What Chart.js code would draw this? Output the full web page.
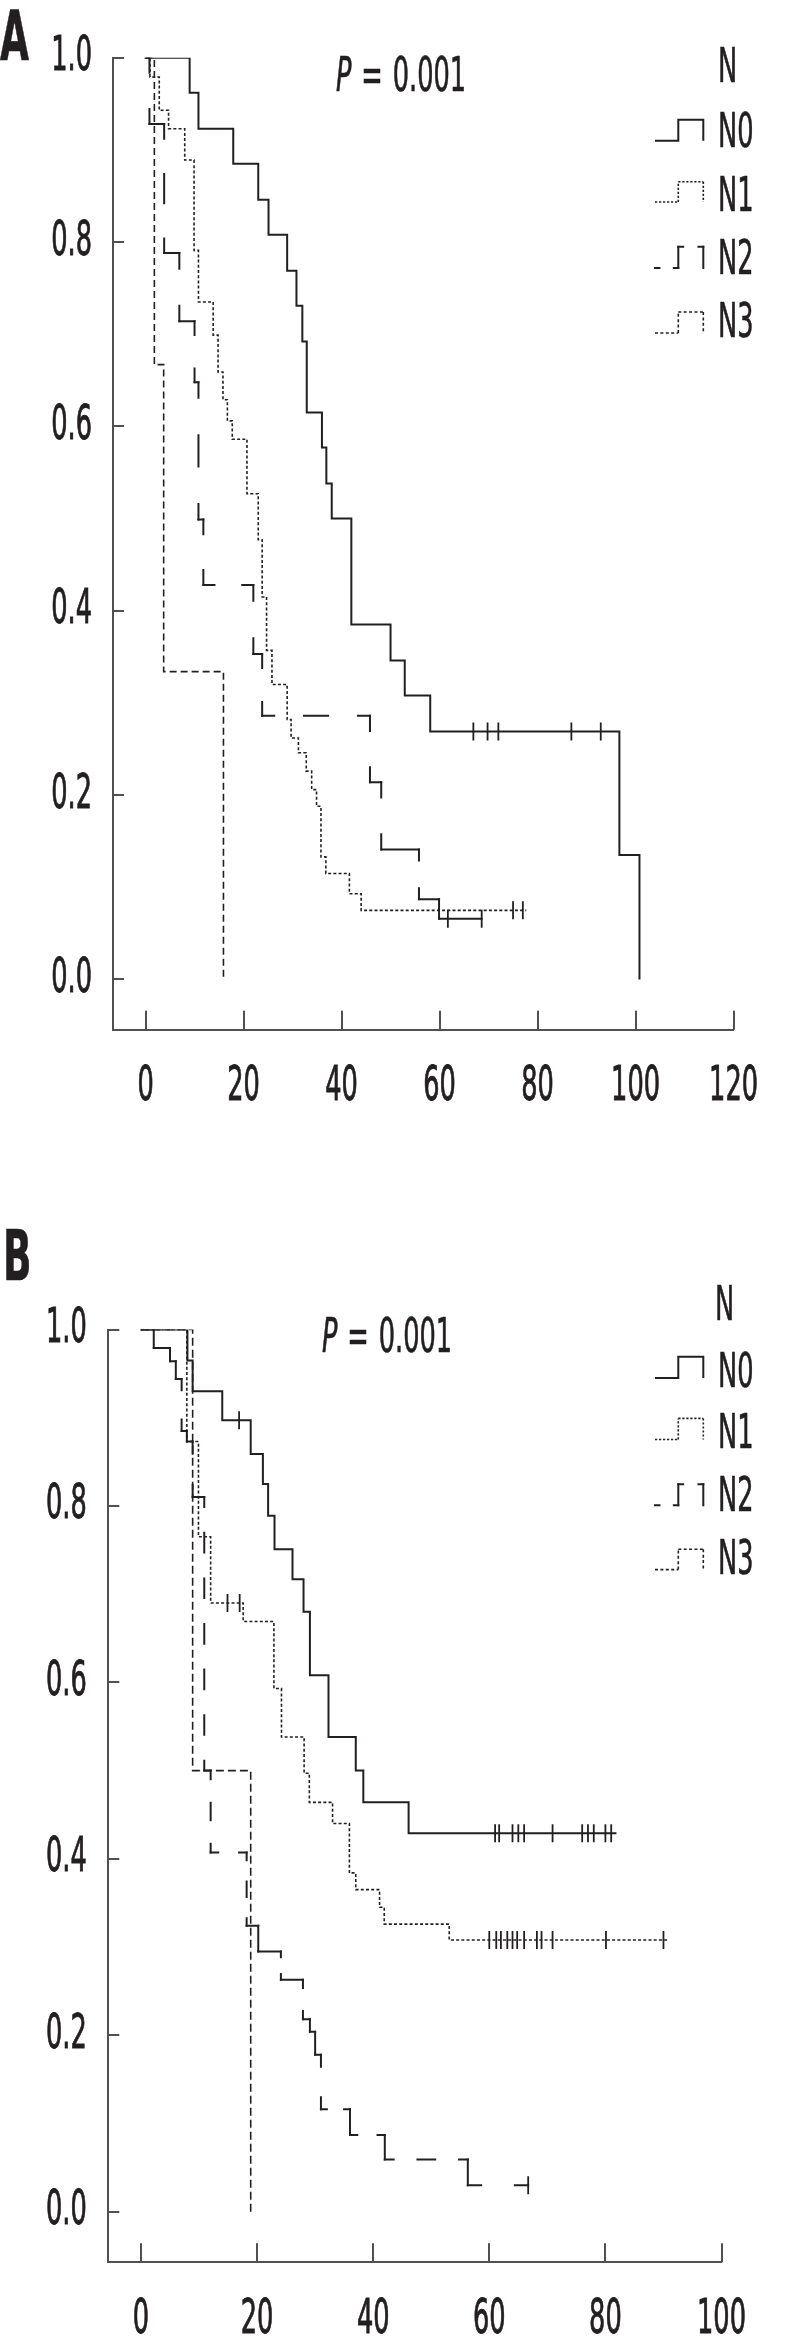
<!DOCTYPE html>
<html><head><meta charset="utf-8">
<script src="https://cdn.jsdelivr.net/npm/chart.js@4.4.1/dist/chart.umd.min.js"></script>
<style>
html,body{margin:0;padding:0;background:#fff;}
#wrap{position:relative;width:787px;height:2348px;overflow:hidden;background:#fff;}
canvas{position:absolute;left:0;}
.t{position:absolute;white-space:nowrap;color:#231f20;line-height:1;transform-origin:0 0;-webkit-text-stroke:0.7px #231f20;}
</style></head><body>
<div id="wrap">
<canvas id="cA" width="787" height="1170" style="top:0"></canvas>
<canvas id="cB" width="787" height="1178" style="top:1170px"></canvas>
<svg id="leg" width="787" height="2348" style="position:absolute;left:0;top:0" xmlns="http://www.w3.org/2000/svg"></svg>
</div>
<script>
// ---------------- DATA ----------------
const seriesNames = ['N0', 'N1', 'N2', 'N3'];
const legendTitle = 'N';
const pValueText = '= 0.001';
const yTicks = [0, 0.2, 0.4, 0.6, 0.8, 1.0];
const yTickLabels = ['0.0', '0.2', '0.4', '0.6', '0.8', '1.0'];
const A_xTicks = [0, 20, 40, 60, 80, 100, 120];
const A_xTickLabels = ['0', '20', '40', '60', '80', '100', '120'];
const B_xTicks = [0, 20, 40, 60, 80, 100];
const B_xTickLabels = ['0', '20', '40', '60', '80', '100'];

// Panel A
const A_N0_time = [0, 9.0, 10.8, 17.9, 23.0, 25.1, 28.9, 30.8, 32.0, 32.9, 36.0, 36.9, 38.0, 42.0, 50.0, 52.9, 58.1, 96.7, 100.8];
const A_N0_surv = [1, 0.962, 0.923, 0.885, 0.846, 0.808, 0.769, 0.731, 0.692, 0.615, 0.577, 0.538, 0.500, 0.385, 0.346, 0.308, 0.269, 0.135, 0];
const A_N0_cens = [66.9, 69.8, 72.0, 86.9, 92.9];

const A_N1_time = [0, 0.9, 2.8, 4.7, 8.0, 9.9, 10.8, 13.8, 14.8, 15.8, 16.7, 17.7, 20.7, 23.0, 23.8, 24.7, 25.8, 28.9, 29.7, 31.2, 32.8, 33.9, 34.9, 35.8, 36.8, 41.6, 44.0, 77.7];
const A_N1_surv = [1, 0.979, 0.943, 0.923, 0.889, 0.791, 0.735, 0.699, 0.659, 0.629, 0.606, 0.586, 0.527, 0.477, 0.415, 0.357, 0.320, 0.282, 0.262, 0.246, 0.226, 0.206, 0.188, 0.133, 0.115, 0.093, 0.075, 0.075];
const A_N1_cens = [75.0, 77.0];

const A_N2_time = [0, 0.8, 3.8, 6.9, 10.0, 10.8, 11.8, 22.0, 23.8, 45.8, 48.1, 55.8, 59.9, 68.6];
const A_N2_surv = [1, 0.928, 0.788, 0.714, 0.648, 0.499, 0.428, 0.353, 0.286, 0.214, 0.141, 0.087, 0.066, 0.066];
const A_N2_cens = [61.7, 68.6];

const A_N3_time = [0, 1.8, 3.7, 15.9];
const A_N3_surv = [1, 0.667, 0.334, 0];
const A_N3_cens = [];

// Panel B
const B_N0_time = [0, 8.0, 8.9, 14.0, 18.9, 21.0, 21.9, 23.0, 26.1, 28.0, 29.1, 32.3, 37.0, 38.3, 46.1, 81.9];
const B_N0_surv = [1, 0.965, 0.930, 0.897, 0.859, 0.825, 0.789, 0.751, 0.717, 0.680, 0.608, 0.538, 0.500, 0.464, 0.429, 0.429];
const B_N0_cens = [16.9, 61.0, 61.7, 64.0, 65.0, 66.0, 70.9, 76.0, 77.0, 78.0, 80.0, 81.0];

const B_N1_time = [0, 7.9, 9.9, 12.0, 17.6, 22.9, 24.2, 28.1, 29.0, 33.0, 35.9, 37.0, 41.1, 41.9, 53.1, 90.7];
const B_N1_surv = [1, 0.873, 0.765, 0.690, 0.669, 0.593, 0.538, 0.497, 0.464, 0.440, 0.384, 0.365, 0.345, 0.326, 0.308, 0.308];
const B_N1_cens = [14.9, 17.0, 60.0, 61.2, 62.0, 63.1, 64.0, 64.8, 66.0, 68.2, 69.0, 70.9, 80.1, 90.0];

const B_N2_time = [0, 2.2, 5.0, 6.0, 7.0, 7.9, 8.9, 10.9, 12.0, 18.2, 20.2, 24.1, 27.9, 29.1, 30.0, 31.0, 36.0, 42.0, 56.3, 66.7];
const B_N2_surv = [1, 0.979, 0.964, 0.944, 0.885, 0.873, 0.810, 0.500, 0.407, 0.324, 0.295, 0.263, 0.218, 0.204, 0.178, 0.116, 0.087, 0.059, 0.030, 0.030];
const B_N2_cens = [66.7];

const B_N3_time = [0, 8.9, 18.9];
const B_N3_surv = [1, 0.5, 0];
const B_N3_cens = [];

// ---------------- STYLE ----------------
const INK = '#231f20';
const AXIS = '#505052';
const FAMILY = "'Liberation Sans Narrow','DejaVu Sans Condensed','Liberation Sans','Arial Narrow',sans-serif";

// condensed text: measure natural digit width and compute horizontal compression
const mctx = document.createElement('canvas').getContext('2d');
mctx.font = '48px ' + FAMILY;
const natDigit = mctx.measureText('0000').width / 4;
const SX = 16.3 / natDigit;
const origFill = CanvasRenderingContext2D.prototype.fillText;
const origMeasure = CanvasRenderingContext2D.prototype.measureText;
CanvasRenderingContext2D.prototype.fillText = function (t, x, y, mw) {
  this.save(); this.translate(x, y); this.scale(SX, 1);
  origFill.call(this, t, 0, 0);
  this.strokeStyle = this.fillStyle; this.lineWidth = 0.9; this.setLineDash([]);
  this.strokeText(t, 0, 0);
  this.restore();
};
CanvasRenderingContext2D.prototype.measureText = function (t) {
  const m = origMeasure.call(this, t);
  return {
    width: m.width * SX,
    actualBoundingBoxAscent: m.actualBoundingBoxAscent,
    actualBoundingBoxDescent: m.actualBoundingBoxDescent,
    actualBoundingBoxLeft: m.actualBoundingBoxLeft * SX,
    actualBoundingBoxRight: m.actualBoundingBoxRight * SX,
    fontBoundingBoxAscent: m.fontBoundingBoxAscent,
    fontBoundingBoxDescent: m.fontBoundingBoxDescent
  };
};

function survAt(time, surv, t) {
  let s = surv[0];
  for (let i = 0; i < time.length; i++) if (time[i] <= t) s = surv[i];
  return s;
}
// corner points of a KM step curve (derived from the data arrays)
function stepCorners(time, surv) {
  const pts = [{ x: time[0], y: surv[0] }];
  for (let i = 1; i < time.length; i++) {
    if (surv[i] !== surv[i - 1]) pts.push({ x: time[i], y: surv[i - 1] });
    pts.push({ x: time[i], y: surv[i] });
  }
  return pts;
}
// dash pattern restarted on every straight piece, dashes centred on corners
function fitDash(len, d, g) {
  const k = Math.floor(len / (d + g) + 0.33);
  if (k < 1) return null;
  const f = len / (k * (d + g));
  return { d: d * f, g: g * f };
}

const tickMarks = {
  id: 'tickMarks',
  afterDraw(chart, args, opts) {
    const ctx = chart.ctx, ca = chart.chartArea;
    const xs = chart.scales.x, ys = chart.scales.y;
    ctx.save();
    ctx.strokeStyle = AXIS; ctx.lineWidth = 2; ctx.setLineDash([]);
    ctx.beginPath();
    xs.ticks.forEach(t => {
      const px = Math.round(xs.getPixelForValue(t.value));
      ctx.moveTo(px, ca.bottom); ctx.lineTo(px, ca.bottom - opts.xLen);
    });
    ys.ticks.forEach(t => {
      const py = Math.round(ys.getPixelForValue(t.value));
      ctx.moveTo(ca.left, py); ctx.lineTo(ca.left + opts.yLen, py);
    });
    ctx.stroke();
    ctx.restore();
  }
};

function makeChart(id, p) {
  const datasets = [];
  p.series.forEach(s => {
    if (s.piecewise) {
      const w = s.width, d = s.dash[0], g = s.dash[1];
      const segLen = c => Math.hypot(c.p1.x - c.p0.x, c.p1.y - c.p0.y);
      datasets.push({
        type: 'line', label: s.name,
        data: stepCorners(s.time, s.surv),
        borderColor: INK, borderWidth: w, pointRadius: 0, fill: false, tension: 0,
        borderCapStyle: 'square', borderJoinStyle: 'miter',
        segment: {
          borderDash: c => { const r = fitDash(segLen(c), d, g); return r ? [Math.max(r.d - w, 0.1), r.g + w] : []; },
          borderDashOffset: c => { const r = fitDash(segLen(c), d, g); return (r ? (r.d - w) / 2 : 0) + (c.p0DataIndex % 2) * 1e-4; }
        }
      });
    } else {
      datasets.push({
        type: 'line', label: s.name,
        data: s.time.map((t, i) => ({ x: t, y: s.surv[i] })),
        stepped: 'before', borderColor: INK, borderWidth: s.width, borderDash: s.dash,
        pointRadius: 0, fill: false, tension: 0, borderCapStyle: 'butt'
      });
    }
    if (s.cens.length) {
      datasets.push({
        type: 'scatter', label: s.name + ' censored',
        data: s.cens.map(t => ({ x: t, y: survAt(s.time, s.surv, t) })),
        pointStyle: 'line', pointRotation: 90, pointRadius: 9,
        pointBorderColor: INK, pointBackgroundColor: INK, pointBorderWidth: 1.8, showLine: false
      });
    }
  });
  return new Chart(document.getElementById(id), {
    type: 'line',
    data: { datasets },
    plugins: [tickMarks],
    options: {
      responsive: false, animation: false, devicePixelRatio: 1, events: [],
      layout: { padding: { left: 0, top: p.padTop, right: p.padRight, bottom: 0 } },
      plugins: { legend: { display: false }, tooltip: { enabled: false }, tickMarks: { xLen: 19, yLen: 11 } },
      scales: {
        x: {
          type: 'linear', min: p.xMin, max: p.xMax,
          afterBuildTicks: sc => { sc.ticks = p.xTicks.map(v => ({ value: v })); },
          afterFit: sc => { sc.height = p.xHeight; },
          ticks: { callback: (v, i) => p.xTickLabels[i], color: INK, padding: 29, maxRotation: 0, minRotation: 0, autoSkip: false,
                   font: { family: FAMILY, size: 48, lineHeight: 1.2 } },
          grid: { display: false, drawTicks: false },
          border: { display: true, color: AXIS, width: 2 }
        },
        y: {
          type: 'linear', min: p.yMin, max: 1.0,
          afterBuildTicks: sc => { sc.ticks = yTicks.map(v => ({ value: v })); },
          afterFit: sc => { sc.width = p.yWidth; },
          ticks: { callback: (v, i) => yTickLabels[i], color: INK, padding: p.yPad, autoSkip: false,
                   font: { family: FAMILY, size: 48, lineHeight: 1.2 } },
          grid: { display: false, drawTicks: false },
          border: { display: true, color: AXIS, width: 2 }
        }
      }
    }
  });
}

makeChart('cA', {
  xMin: -6.64, xMax: 120, yMin: -0.0546, padTop: 57.7, padRight: 31.3, yWidth: 113, xHeight: 140.2, yPad: 21,
  xTicks: A_xTicks, xTickLabels: A_xTickLabels,
  series: [
    { name: 'N0', time: A_N0_time, surv: A_N0_surv, cens: A_N0_cens, dash: [], width: 2 },
    { name: 'N1', time: A_N1_time, surv: A_N1_surv, cens: A_N1_cens, dash: [3, 2.2], width: 1.6 },
    { name: 'N2', time: A_N2_time, surv: A_N2_surv, cens: A_N2_cens, dash: [31, 33], width: 2, piecewise: true },
    { name: 'N3', time: A_N3_time, surv: A_N3_surv, cens: A_N3_cens, dash: [7, 4], width: 1.6 }
  ]
});
makeChart('cB', {
  xMin: -5.63, xMax: 100, yMin: -0.0574, padTop: 159.5, padRight: 65.5, yWidth: 108.3, xHeight: 85.7, yPad: 21.5,
  xTicks: B_xTicks, xTickLabels: B_xTickLabels,
  series: [
    { name: 'N0', time: B_N0_time, surv: B_N0_surv, cens: B_N0_cens, dash: [], width: 2 },
    { name: 'N1', time: B_N1_time, surv: B_N1_surv, cens: B_N1_cens, dash: [3, 2.2], width: 1.6 },
    { name: 'N2', time: B_N2_time, surv: B_N2_surv, cens: B_N2_cens, dash: [20, 22], width: 2, piecewise: true },
    { name: 'N3', time: B_N3_time, surv: B_N3_surv, cens: B_N3_cens, dash: [8, 4], width: 1.6 }
  ]
});

// ---------------- TEXT (HTML) + legend keys ----------------
const wrap = document.getElementById('wrap');
function addText(html, left, baseline, size, bold, extra) {
  const el = document.createElement('div');
  el.className = 't';
  el.style.fontFamily = FAMILY;
  el.style.fontSize = size + 'px';
  el.style.fontWeight = bold ? 'bold' : 'normal';
  if (extra) Object.assign(el.style, extra);
  el.innerHTML = html;
  mctx.font = (bold ? 'bold ' : '') + size + 'px ' + FAMILY;
  const m = origMeasure.call(mctx, 'N');
  const A = m.fontBoundingBoxAscent, D = m.fontBoundingBoxDescent;
  el.style.top = (baseline - (size / 2 + (A - D) / 2)) + 'px';
  el.style.left = left + 'px';
  el.style.transform = 'scaleX(' + SX + ')';
  wrap.appendChild(el);
}
const panels = [
  { label: 'A', labelX: 0, labelBase: 60, pX: 336, pBase: 91, nX: 718, nBase: 82, itemX: 718, itemBase: [147, 210.5, 273.6, 336.8],
    sym: [[140.8, 119.8], [202, 181.8], [268, 246.8], [333, 312]] },
  { label: 'B', labelX: 3, labelBase: 1280, pX: 322, pBase: 1352, nX: 715, nBase: 1320, itemX: 718, itemBase: [1386.7, 1448, 1511, 1574],
    sym: [[1377.9, 1356.8], [1439.5, 1418.4], [1505.3, 1484.2], [1569.6, 1549.3]] }
];
const legDash = [null, [2.2, 1.8], [15, 17], [3, 2.4]];
const legWidth = [2, 1.6, 2, 1.6];
const SVGNS = 'http://www.w3.org/2000/svg';
const svg = document.getElementById('leg');
function svgLine(x1, y1, x2, y2, w, dash, piece) {
  const ln = document.createElementNS(SVGNS, 'line');
  ln.setAttribute('x1', x1); ln.setAttribute('y1', y1); ln.setAttribute('x2', x2); ln.setAttribute('y2', y2);
  ln.setAttribute('stroke', INK); ln.setAttribute('stroke-width', w);
  if (piece) {
    ln.setAttribute('stroke-linecap', 'square');
    const r = fitDash(Math.hypot(x2 - x1, y2 - y1), dash[0], dash[1]);
    if (r) { ln.setAttribute('stroke-dasharray', (r.d - w) + ' ' + (r.g + w)); ln.setAttribute('stroke-dashoffset', (r.d - w) / 2); }
  } else {
    ln.setAttribute('stroke-linecap', 'butt');
    if (dash) ln.setAttribute('stroke-dasharray', dash.join(' '));
  }
  svg.appendChild(ln);
}
panels.forEach(pn => {
  addText(pn.label, pn.labelX, pn.labelBase, 70, true);
  addText('<i>P</i> ' + pValueText, pn.pX, pn.pBase, 48, false, { wordSpacing: '3px' });
  addText(legendTitle, pn.nX, pn.nBase, 48, false);
  seriesNames.forEach((nm, i) => {
    addText(nm, pn.itemX, pn.itemBase[i], 48, false);
    const [lo, hi] = pn.sym[i];
    if (i === 0) {
      const path = document.createElementNS(SVGNS, 'path');
      path.setAttribute('d', `M655,${lo} H678.3 V${hi} H703.3 V${lo}`);
      path.setAttribute('fill', 'none'); path.setAttribute('stroke', INK); path.setAttribute('stroke-width', legWidth[i]);
      svg.appendChild(path);
    } else {
      const piece = (i === 2);
      svgLine(655, lo, 678.3, lo, legWidth[i], legDash[i], piece);
      svgLine(678.3, lo, 678.3, hi, legWidth[i], legDash[i], piece);
      svgLine(678.3, hi, 703.3, hi, legWidth[i], legDash[i], piece);
      svgLine(703.3, hi, 703.3, lo, legWidth[i], legDash[i], piece);
    }
  });
});
</script>
</body></html>
